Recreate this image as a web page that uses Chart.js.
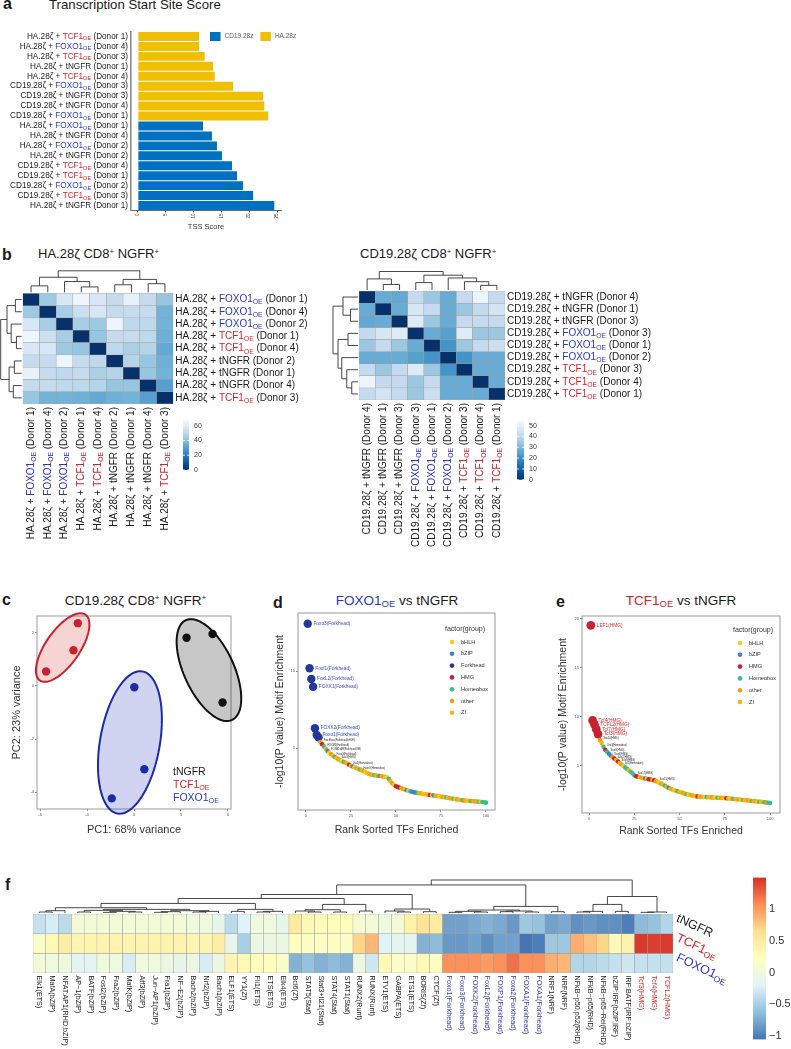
<!DOCTYPE html>
<html>
<head>
<meta charset="utf-8">
<title>TSS score, sample distances, PCA and motif enrichment</title>
<script src="https://cdn.jsdelivr.net/npm/chart.js@4.4.1/dist/chart.umd.min.js"></script>
<style>
  html, body { margin: 0; padding: 0; background: #fff; }
  body { position: relative; width: 791px; height: 1049px; overflow: hidden; font-family: "Liberation Sans", Arial, sans-serif; color: #1a1a1a; }
  canvas { position: absolute; }
  .t { position: absolute; white-space: nowrap; line-height: 1; }
  .p { font-weight: bold; font-size: 16px; }
  .c { transform: translateX(-50%); }
  .rd { color: #d4232b; }
  .bl { color: #2b36c4; }
  sup { font-size: 0.6em; vertical-align: baseline; position: relative; top: -0.5em; }
  sub { font-size: 0.7em; vertical-align: baseline; position: relative; top: 0.3em; }
</style>
</head>
<body>
<div class="t p" style="left:3px;top:-4.5px">a</div>
<div class="t" style="left:49px;top:-1.8px;font-size:13.2px">Transcription Start Site Score</div>
<div class="t p" style="left:2px;top:246.5px">b</div>
<div class="t" style="left:38px;top:247px;font-size:13px">HA.28ζ CD8<sup>+</sup> NGFR<sup>+</sup></div>
<div class="t" style="left:360px;top:247px;font-size:13px">CD19.28ζ CD8<sup>+</sup> NGFR<sup>+</sup></div>
<div class="t p" style="left:2px;top:591.5px">c</div>
<div class="t c" style="left:135.5px;top:593.5px;font-size:13.5px">CD19.28ζ CD8<sup>+</sup> NGFR<sup>+</sup></div>
<div class="t p" style="left:273px;top:594.5px">d</div>
<div class="t c" style="left:397px;top:593.5px;font-size:13.5px"><span class="bl">FOXO1<sub>OE</sub></span> vs tNGFR</div>
<div class="t p" style="left:556px;top:593.5px">e</div>
<div class="t c" style="left:681px;top:593.5px;font-size:13.5px"><span class="rd">TCF1<sub>OE</sub></span> vs tNGFR</div>
<div class="t p" style="left:5px;top:876.5px">f</div>
<script>
// ---------- a: TSS score ----------
const tssLabels = [
  'HA.28ζ + TCF1OE (Donor 1)',
  'HA.28ζ + FOXO1OE (Donor 4)',
  'HA.28ζ + TCF1OE (Donor 3)',
  'HA.28ζ + tNGFR (Donor 1)',
  'HA.28ζ + TCF1OE (Donor 4)',
  'CD19.28ζ + FOXO1OE (Donor 3)',
  'CD19.28ζ + tNGFR (Donor 3)',
  'CD19.28ζ + tNGFR (Donor 4)',
  'CD19.28ζ + FOXO1OE (Donor 1)',
  'HA.28ζ + FOXO1OE (Donor 1)',
  'HA.28ζ + tNGFR (Donor 4)',
  'HA.28ζ + FOXO1OE (Donor 2)',
  'HA.28ζ + tNGFR (Donor 2)',
  'CD19.28ζ + TCF1OE (Donor 4)',
  'CD19.28ζ + TCF1OE (Donor 1)',
  'CD19.28ζ + FOXO1OE (Donor 2)',
  'CD19.28ζ + TCF1OE (Donor 3)',
  'HA.28ζ + tNGFR (Donor 1)'
];
const tssScore = [11.0, 11.0, 12.0, 13.5, 13.8, 17.1, 22.5, 22.7, 23.4,
                  11.7, 13.3, 14.2, 15.1, 16.9, 17.8, 18.9, 20.7, 24.5];
const tssCar = ['HA.28z', 'HA.28z', 'HA.28z', 'HA.28z', 'HA.28z', 'HA.28z', 'HA.28z', 'HA.28z', 'HA.28z',
                'CD19.28z', 'CD19.28z', 'CD19.28z', 'CD19.28z', 'CD19.28z', 'CD19.28z', 'CD19.28z', 'CD19.28z', 'CD19.28z'];
const carNames = ['CD19.28z', 'HA.28z'];

// ---------- b: sample distance heatmaps ----------
const bLeftSamples = [
  'HA.28ζ + FOXO1OE (Donor 1)', 'HA.28ζ + FOXO1OE (Donor 4)', 'HA.28ζ + FOXO1OE (Donor 2)',
  'HA.28ζ + TCF1OE (Donor 1)', 'HA.28ζ + TCF1OE (Donor 4)', 'HA.28ζ + tNGFR (Donor 2)',
  'HA.28ζ + tNGFR (Donor 1)', 'HA.28ζ + tNGFR (Donor 4)', 'HA.28ζ + TCF1OE (Donor 3)'
];
const bLeftDist = [
  [0, 43, 58, 66, 58, 52, 64, 52, 42],
  [43, 0, 45, 54, 58, 52, 52, 52, 36],
  [58, 45, 0, 45, 43, 66, 50, 50, 36],
  [66, 54, 45, 0, 42, 52, 52, 50, 35],
  [58, 58, 43, 42, 0, 50, 46, 48, 33],
  [52, 52, 66, 52, 50, 0, 48, 42, 35],
  [64, 52, 50, 52, 46, 48, 0, 42, 36],
  [52, 52, 50, 50, 48, 42, 42, 0, 30],
  [42, 36, 36, 35, 33, 35, 36, 30, 0]
];
const bLeftTree = [[[0, 1, 3], [2, [3, 4, 2.5], 5], 7], [[5, 6, 3.5], [7, 8, 4], 6], 10];
const bLeftRange = [0, 69];

const bRightSamples = [
  'CD19.28ζ + tNGFR (Donor 4)', 'CD19.28ζ + tNGFR (Donor 1)', 'CD19.28ζ + tNGFR (Donor 3)',
  'CD19.28ζ + FOXO1OE (Donor 3)', 'CD19.28ζ + FOXO1OE (Donor 1)', 'CD19.28ζ + FOXO1OE (Donor 2)',
  'CD19.28ζ + TCF1OE (Donor 3)', 'CD19.28ζ + TCF1OE (Donor 4)', 'CD19.28ζ + TCF1OE (Donor 1)'
];
const bRightDist = [
  [0, 27, 26, 41, 34, 27, 41, 52, 41],
  [27, 0, 27, 46, 41, 27, 34, 41, 45],
  [26, 27, 0, 48, 34, 27, 41, 41, 41],
  [41, 46, 48, 0, 27, 24, 48, 34, 34],
  [34, 41, 34, 27, 0, 21, 34, 41, 43],
  [27, 27, 27, 24, 21, 0, 21, 27, 27],
  [41, 34, 41, 48, 34, 21, 0, 27, 27],
  [52, 41, 41, 34, 41, 27, 27, 0, 27],
  [41, 45, 41, 34, 43, 27, 27, 27, 0]
];
const bRightTree = [[0, [1, 2, 3], 6], [[3, 4, 4], [5, [6, [7, 8, 2.5], 4.5], 6.5], 8], 10];
const bRightRange = [0, 55];

// ---------- c: PCA ----------
const pcaGroups = ['tNGFR', 'TCF1OE', 'FOXO1OE'];
const pcaGroup = ['tNGFR', 'tNGFR', 'tNGFR', 'TCF1OE', 'TCF1OE', 'TCF1OE', 'FOXO1OE', 'FOXO1OE', 'FOXO1OE'];
const pc1 = [3.36, 5.02, 5.66, -3.59, -3.87, -5.62, 0.02, 0.66, -1.42];
const pc2 = [1.82, 1.96, -0.62, 2.37, 1.35, 0.55, -0.05, -3.14, -4.24];
const ellCenter = [[4.79, 0.6], [-4.56, 1.45], [-0.26, -2.13]];
const ellAxisA = [[1.48, -1.88], [1.46, 1.24], [0.80, 2.68]];
const ellAxisB = [[1.44, 0.40], [0.89, -0.37], [1.88, -0.20]];

// ---------- d / e: rank sorted motif enrichment ----------
const dScore = [
  13.1, 10.2, 9.5, 9.0, 6.3, 5.85, 5.7, 5.4, 5.25, 5.1,
  4.95, 4.82, 4.7, 4.6, 4.5, 4.42, 4.35, 4.28, 4.2, 4.15,
  4.1, 4.05, 4.0, 3.92, 3.85, 3.8, 3.75, 3.7, 3.65, 3.6,
  3.55, 3.5, 3.45, 3.38, 3.32, 3.28, 3.25, 3.23, 3.21, 3.2,
  3.18, 3.17, 3.15, 3.13, 3.1, 3.0, 2.85, 2.7, 2.6, 2.52,
  2.47, 2.42, 2.38, 2.34, 2.3, 2.26, 2.22, 2.19, 2.16, 2.13,
  2.1, 2.08, 2.06, 2.04, 2.02, 2.0, 1.98, 1.96, 1.95, 1.93,
  1.91, 1.9, 1.88, 1.86, 1.84, 1.82, 1.8, 1.78, 1.76, 1.74,
  1.72, 1.7, 1.68, 1.66, 1.64, 1.62, 1.6, 1.59, 1.58, 1.57,
  1.56, 1.55, 1.54, 1.53, 1.52, 1.51, 1.5, 1.49, 1.47, 1.45
];
// f=Forkhead o=other h=HMG x=Homeobox Z=Zf z=bZIP b=bHLH
const dGroup = ['fffffffohx', 'ZzboZxZoZb', 'xoZhZzboZx', 'ZobZZoZxZo', 'zZoZbxZobh',
                'hhZoZzbxzz', 'zxZobZZohZ', 'zZobZoZxZo', 'ZxboZZxoZb', 'oxZoZxbxxx'];
const dTagIndex = [0, 1, 2, 3, 4, 5];
const dTagText = ['Foxo3(Forkhead)', 'Foxf1(Forkhead)', 'FoxL2(Forkhead)', 'FOXK1(Forkhead)', 'FOXK2(Forkhead)', 'Foxo1(Forkhead)'];
const dTinyIndex = [7, 9, 11, 14, 17, 23, 29];
const dTinyText = ['Fox:Ebox(Forkhead,bHLH)', 'FOXM1(Forkhead)', 'FOXA1:AR(Forkhead,NR)', 'Foxa3(Forkhead)', 'Sox3(HMG)', 'Lhx2(Homeobox)', 'Hoxc9(Homeobox)'];

const eScore = [
  19.3, 9.6, 9.2, 8.7, 8.2, 7.6, 7.3, 6.9, 6.6, 6.4,
  6.2, 6.0, 5.85, 5.7, 5.55, 5.4, 5.25, 5.1, 4.95, 4.8,
  4.65, 4.5, 4.35, 4.2, 4.0, 3.9, 3.85, 3.8, 3.75, 3.7,
  3.67, 3.64, 3.6, 3.57, 3.53, 3.48, 3.4, 3.32, 3.22, 3.12,
  3.02, 2.92, 2.82, 2.72, 2.63, 2.55, 2.48, 2.42, 2.36, 2.3,
  2.24, 2.18, 2.12, 2.07, 2.02, 1.98, 1.94, 1.9, 1.87, 1.84,
  1.82, 1.8, 1.79, 1.78, 1.77, 1.76, 1.75, 1.74, 1.73, 1.72,
  1.71, 1.7, 1.69, 1.68, 1.67, 1.66, 1.64, 1.62, 1.6, 1.58,
  1.56, 1.54, 1.52, 1.5, 1.48, 1.46, 1.44, 1.42, 1.4, 1.38,
  1.36, 1.34, 1.32, 1.3, 1.28, 1.26, 1.24, 1.22, 1.2, 1.17
];
const eGroup = ['hhhhhoZxhx', 'zzohZhZobx', 'xZxxxhhZoZ', 'zZhhZhoZbo', 'ZxZzZobZxZ',
                'ZoZxbZoZZh', 'ZoZbxZZoZb', 'xZoZZhZbox', 'ZZobxZZoZx', 'ZobxZZxoxx'];
const eTagIndex = [0, 1, 2, 3, 4];
const eTagText = ['LEF1(HMG)', 'Tcf4(HMG)', 'TCFL2(HMG)', 'Tcf7(HMG)', 'Tcf3(HMG)'];
const eTinyIndex = [5, 7, 9, 11, 13, 15, 17, 24, 36];
const eTinyText = ['Sox10(HMG)', 'Lhx3(Homeobox)', 'Sox3(HMG)', 'Sox6(HMG)', 'Sox2(HMG)', 'Sox9(HMG)', 'Isl1(Homeobox)', 'Sox17(HMG)', 'Sox15(HMG)'];

// ---------- f: motif heatmap ----------
const motifs = [
  'Elk1(ETS)', 'MafA(bZIP)', 'NFAT:AP1(RHD,bZIP)', 'AP−1(bZIP)', 'BATF(bZIP)', 'Fosl2(bZIP)', 'Fra2(bZIP)', 'MafK(bZIP)', 'Atf3(bZIP)', 'Jun−AP1(bZIP)',
  'Fra1(bZIP)', 'NF−E2(bZIP)', 'Bach2(bZIP)', 'Nrf2(bZIP)', 'Bach1(bZIP)', 'ELF1(ETS)', 'YY1(Zf)', 'Fli1(ETS)', 'ETS(ETS)', 'Elk4(ETS)',
  'Bcl6(Zf)', 'STAT5(Stat)', 'Stat3+Il21(Stat)', 'STAT4(Stat)', 'STAT1(Stat)', 'RUNX2(Runt)', 'RUNX(Runt)', 'ETV1(ETS)', 'GABPA(ETS)', 'ETS1(ETS)',
  'BORIS(Zf)', 'CTCF(Zf)', 'Foxo1(Forkhead)', 'Foxo3(Forkhead)', 'FOXK2(Forkhead)', 'FoxL2(Forkhead)', 'FOXP1(Forkhead)', 'Foxa2(Forkhead)', 'FOXA1(Forkhead)', 'FOXA1(Forkhead)',
  'NRF1(NRF)', 'NRF(NRF)', 'NFkB−p50,p52(RHD)', 'NFkB−p65(RHD)', 'NFkB−p65−Rel(RHD)', 'bZIP:IRF(bZIP,IRF)', 'IRF:BATF(IRF:bZIP)', 'Tcf3(HMG)', 'Tcf4(HMG)', 'TCFL2(HMG)'
];
const fRowNames = ['tNGFR', 'TCF1OE', 'FOXO1OE'];
const fTngfr = [
  -0.35, -0.25, -0.4, 0.05, 0.05, 0.05, 0.05, 0.05, 0.05, 0.05,
  0.05, 0.05, 0.0, 0.0, -0.1, -0.4, -0.2, 0.0, 0.0, -0.1,
  0.5, 0.3, 0.28, 0.25, 0.25, 0.1, 0.05, 0.0, 0.05, 0.4,
  0.6, 0.5, -0.8, -0.8, -0.75, -0.7, -0.75, -0.85, -0.55, -0.6,
  -0.8, -0.75, -0.9, -0.85, -0.9, -0.9, -1.0, -0.65, -0.6, -0.45
];
const fTcf1 = [
  0.15, 0.3, 0.45, 0.35, 0.35, 0.38, 0.38, 0.38, 0.38, 0.38,
  0.4, 0.38, 0.35, 0.35, 0.45, -0.1, -0.5, -0.05, -0.05, -0.05,
  0.2, 0.2, 0.18, 0.18, 0.15, 0.7, 0.85, -0.2, -0.15, -0.15,
  -0.7, -0.65, -0.85, -0.85, -0.8, -0.9, -0.8, -0.8, -1.05, -1.0,
  -0.55, -0.55, 0.9, 0.8, 0.7, 0.3, 0.4, 1.45, 1.42, 1.45
];
const fFoxo1 = [
  0.05, 0.0, 0.0, -0.15, -0.15, 0.0, 0.0, -0.25, 0.0, 0.0,
  -0.05, -0.1, -0.05, -0.25, -0.05, 0.35, 0.3, 0.25, 0.25, 0.15,
  -0.7, -0.6, -0.7, -0.65, -0.7, -0.05, -0.3, 0.3, 0.15, 0.15,
  0.3, 0.2, 1.05, 1.05, 1.05, 1.0, 1.05, 1.2, 1.05, 1.05,
  0.9, 0.85, -0.45, -0.45, -0.4, -0.35, -0.3, -0.35, -0.35, -0.35
];
const fRange = [-1.05, 1.49];
// motif clustering (leaf = column index, last entry = merge height)
const fTreeA = [[[0, 1, 0.3], 2, 0.7],
                [[[3, 4, 0.3], [[5, 6, 0.2], [7, 8, 0.3], 0.5], 0.8],
                 [[[9, 10, 0.2], 11, 0.4], [[12, 13, 0.3], 14, 0.5], 0.7], 1.1], 1.6];
const fTreeB = [[15, 16, 0.5], [[17, 18, 0.3], 19, 0.5], 1.1];
const fTreeC = [[[20, [21, 22, 0.3], 0.6], [23, 24, 0.3], 1.0], [25, 26, 0.6], 2.6];
const fTreeD = [[27, [28, 29, 0.3], 0.6], [30, 31, 0.4], 1.2];
const fTreeX = [[[[32, 33, 0.2], [34, 35, 0.3], 0.5], [[36, 37, 0.4], [38, 39, 0.3], 0.6], 0.9], [40, 41, 0.4], 2.0];
const fTreeR = [[[[42, 43, 0.3], 44, 0.5], [45, 46, 0.5], 2.6], [[47, 48, 0.2], 49, 0.3], 5.0];
const fTree = [[[[[fTreeA, fTreeB, 2.9], fTreeC, 4.4], fTreeD, 5.6], fTreeX, 8.5], fTreeR, 10];

// ---------- styling ----------
const FF = '"Liberation Sans", Arial, sans-serif';
const RED = '#d4232b', BLUE = '#2b36c4', INK = '#1a1a1a';
const carColor = {'CD19.28z': '#0070c0', 'HA.28z': '#f0c000'};
const pcaColor = {'tNGFR': '#111111', 'TCF1OE': '#c8232c', 'FOXO1OE': '#1c2ba8'};
const pcaFill = {'tNGFR': 'rgba(0,0,0,0.22)', 'TCF1OE': 'rgba(210,40,40,0.2)', 'FOXO1OE': 'rgba(40,60,190,0.22)'};
const groupCode = {f: 'Forkhead', o: 'other', h: 'HMG', x: 'Homeobox', Z: 'Zf', z: 'bZIP', b: 'bHLH'};
const groupColor = {bHLH: '#efd118', bZIP: '#3d84cc', Forkhead: '#23399a', HMG: '#c8232e', Homeobox: '#3ebd8c', other: '#f49a16', Zf: '#f6b60c'};
const BLUES = ['#08306b', '#08519c', '#2171b5', '#4292c6', '#6baed6', '#9ecae1', '#c6dbef', '#deebf7', '#f7fbff'];
const RDYLBU = ['#4575b4', '#91bfdb', '#e0f3f8', '#ffffbf', '#fee090', '#fc8d59', '#d73027'];

Chart.defaults.font.family = FF;
Chart.defaults.color = '#333';
Chart.defaults.animation = false;
Chart.defaults.responsive = false;
Chart.defaults.devicePixelRatio = 1;
Chart.defaults.events = [];
Chart.defaults.plugins.legend.display = false;
Chart.defaults.plugins.tooltip.enabled = false;

function place(left, top, w, h) {
  const c = document.createElement('canvas');
  c.width = w; c.height = h;
  c.style.left = left + 'px'; c.style.top = top + 'px';
  c.style.width = w + 'px'; c.style.height = h + 'px';
  document.body.appendChild(c);
  return c;
}

function ramp(stops, lo, hi) {
  const rgb = stops.map(h => [1, 3, 5].map(i => parseInt(h.slice(i, i + 2), 16)));
  return v => {
    const t = Math.max(0, Math.min(1, (v - lo) / (hi - lo)));
    const p = t * (rgb.length - 1);
    const i = Math.min(Math.floor(p), rgb.length - 2), f = p - i;
    return 'rgb(' + rgb[i].map((a, k) => Math.round(a + (rgb[i + 1][k] - a) * f)).join(',') + ')';
  };
}

// split "X + TCF1OE (Donor n)" into coloured pieces with subscript OE
function parts(label) {
  const m = label.match(/^(.*?)(TCF1|FOXO1)OE(.*)$/);
  if (!m) return [{t: label}];
  const c = m[2] === 'TCF1' ? RED : BLUE;
  return [{t: m[1]}, {t: m[2], c}, {t: 'OE', c, sub: true}, {t: m[3]}].filter(p => p.t);
}

function drawRich(ctx, segs, x, y, size, align) {
  ctx.textBaseline = 'middle';
  ctx.textAlign = 'left';
  let w = 0;
  segs.forEach(s => { ctx.font = (s.sub ? size * 0.68 : size) + 'px ' + FF; s.w = ctx.measureText(s.t).width; w += s.w; });
  let cx = align === 'right' ? x - w : x;
  segs.forEach(s => {
    ctx.font = (s.sub ? size * 0.68 : size) + 'px ' + FF;
    ctx.fillStyle = s.c || INK;
    ctx.fillText(s.t, cx, s.sub ? y + size * 0.3 : y);
    cx += s.w;
  });
}

function drawTree(ctx, tree, leafPx, base, span, vertical) {
  const hmax = tree[2];
  const hp = h => base - h / hmax * span;
  const line = (p1, h1, p2, h2) => {
    if (vertical) { ctx.moveTo(p1, h1); ctx.lineTo(p2, h2); } else { ctx.moveTo(h1, p1); ctx.lineTo(h2, p2); }
  };
  const walk = n => {
    if (typeof n === 'number') return [leafPx(n), base];
    const [pa, ha] = walk(n[0]);
    const [pb, hb] = walk(n[1]);
    const h = hp(n[2]);
    line(pa, ha, pa, h); line(pb, hb, pb, h); line(pa, h, pb, h);
    return [(pa + pb) / 2, h];
  };
  ctx.beginPath();
  walk(tree);
  ctx.stroke();
}

const frame = {
  id: 'frame',
  beforeDatasetsDraw(chart) {
    const {ctx, chartArea: a} = chart;
    ctx.save();
    ctx.strokeStyle = '#9a9a9a'; ctx.lineWidth = 1;
    ctx.strokeRect(a.left, a.top, a.width, a.height);
    ctx.restore();
  }
};

// ---------- a ----------
new Chart(place(0, 0, 400, 240), {
  type: 'bar',
  data: {
    labels: tssLabels,
    datasets: carNames.map(car => ({
      label: car,
      data: tssScore.map((v, i) => tssCar[i] === car ? v : null),
      backgroundColor: carColor[car],
      barPercentage: 0.9,
      categoryPercentage: 1
    }))
  },
  options: {
    indexAxis: 'y',
    layout: {padding: {top: 31.5, right: 119, left: 0, bottom: 0}},
    scales: {
      x: {
        stacked: true, min: -1.23, max: 25.7,
        afterFit: s => { s.height = 29.5; },
        grid: {drawOnChartArea: false, tickLength: 2, color: '#444'},
        border: {color: '#444', width: 0.8},
        ticks: {stepSize: 5, includeBounds: false, minRotation: 90, maxRotation: 90, font: {size: 4.5}, color: '#444', padding: 1},
        title: {display: true, text: 'TSS Score', font: {size: 7.5}, color: '#333', padding: {top: 0, bottom: 8.5}}
      },
      y: {
        stacked: true,
        afterFit: s => { s.width = 131; },
        grid: {display: false},
        border: {color: '#8c8c8c', width: 1.6},
        ticks: {display: false}
      }
    }
  },
  plugins: [{
    id: 'tssLabels',
    afterDraw(chart) {
      const {ctx, chartArea: a, scales: {y}} = chart;
      tssLabels.forEach((l, i) => drawRich(ctx, parts(l), a.left - 3, y.getPixelForValue(i), 8.2, 'right'));
      let lx = 210;
      chart.data.datasets.forEach(ds => {
        ctx.fillStyle = ds.backgroundColor;
        ctx.fillRect(lx, 32, 10.5, 9);
        ctx.font = '6.5px ' + FF; ctx.fillStyle = '#555';
        ctx.textAlign = 'left'; ctx.textBaseline = 'middle';
        ctx.fillText(ds.label, lx + 14.5, 36.7);
        lx += 14.5 + ctx.measureText(ds.label).width + 7;
      });
    }
  }]
});

// ---------- b ----------
function sampleLabels(names, size) {
  return {
    id: 'sampleLabels',
    afterDraw(chart) {
      const {ctx, chartArea: a, scales: {x, y}} = chart;
      names.forEach((n, i) => drawRich(ctx, parts(n), a.right + 2, y.getPixelForValue(i + 0.5), size, 'left'));
      names.forEach((n, j) => {
        ctx.save();
        ctx.translate(x.getPixelForValue(j), a.bottom + 3);
        ctx.rotate(-Math.PI / 2);
        drawRich(ctx, parts(n), 0, 0, size, 'right');
        ctx.restore();
      });
    }
  };
}

function treePlugin(tree, colSpan, rowSpan) {
  return {
    id: 'trees',
    afterDraw(chart) {
      const {ctx, chartArea: a, scales: {x, y}} = chart;
      ctx.save();
      ctx.strokeStyle = '#333'; ctx.lineWidth = 0.9;
      drawTree(ctx, tree, j => x.getPixelForValue(j), a.top - 1, colSpan, true);
      if (rowSpan) drawTree(ctx, tree, i => y.getPixelForValue(i + 0.5), a.left - 1, rowSpan, false);
      ctx.restore();
    }
  };
}

function heatmap(canvas, rowNames, colNames, matrix, colorOf, pad, plugins) {
  return new Chart(canvas, {
    type: 'bar',
    data: {
      labels: colNames,
      datasets: matrix.map((row, r) => ({
        label: rowNames[r],
        data: row.map(() => 1),
        backgroundColor: row.map(colorOf),
        borderColor: '#9c9c9c',
        borderWidth: 0.5,
        borderSkipped: false,
        barPercentage: 1,
        categoryPercentage: 1
      }))
    },
    options: {
      layout: {padding: pad},
      scales: {
        x: {display: false, stacked: true},
        y: {display: false, stacked: true, reverse: true, min: 0, max: matrix.length}
      }
    },
    plugins
  });
}

function colorbar(canvas, range, step, stops, pad, axisW, fontSize, fmt, marks, tickPad) {
  return new Chart(canvas, {
    type: 'bar',
    data: {
      labels: [''],
      datasets: [{
        data: [range],
        backgroundColor: c => {
          const a = c.chart.chartArea;
          if (!a) return stops[0];
          const g = c.chart.ctx.createLinearGradient(0, a.bottom, 0, a.top);
          stops.forEach((s, i) => g.addColorStop(i / (stops.length - 1), s));
          return g;
        },
        borderWidth: 0,
        barPercentage: 1,
        categoryPercentage: 1
      }]
    },
    options: {
      layout: {padding: pad},
      scales: {
        x: {display: false},
        y: {
          position: 'right', min: range[0], max: range[1],
          grid: {display: false, drawTicks: false}, border: {display: false},
          afterFit: s => { s.width = axisW; },
          ticks: {stepSize: step, includeBounds: false, font: {size: fontSize}, color: '#333', padding: tickPad, callback: fmt}
        }
      }
    },
    plugins: marks ? [{
      id: 'marks',
      afterDatasetsDraw(chart) {
        const {ctx, chartArea: a, scales: {y}} = chart;
        ctx.save();
        ctx.strokeStyle = 'rgba(255,255,255,0.9)'; ctx.lineWidth = 1;
        y.ticks.forEach(t => {
          const py = y.getPixelForValue(t.value);
          ctx.beginPath();
          ctx.moveTo(a.left, py); ctx.lineTo(a.left + 1.8, py);
          ctx.moveTo(a.right - 1.8, py); ctx.lineTo(a.right, py);
          ctx.stroke();
        });
        ctx.restore();
      }
    }] : []
  });
}

heatmap(place(0, 260, 330, 300), bLeftSamples, bLeftSamples, bLeftDist,
  ramp(BLUES, bLeftRange[0], bLeftRange[1]),
  {left: 22.7, top: 33.3, right: 156.7, bottom: 156},
  [sampleLabels(bLeftSamples, 10), treePlugin(bLeftTree, 21.5, 21)]);
colorbar(place(176, 410, 40, 70), bLeftRange, 20, BLUES, {left: 7, top: 7, bottom: 10, right: 0}, 27, 7, v => v, true, 5);

heatmap(place(320, 260, 470, 300), bRightSamples, bRightSamples, bRightDist,
  ramp(BLUES, bRightRange[0], bRightRange[1]),
  {left: 39, top: 31, right: 285, bottom: 160},
  [sampleLabels(bRightSamples, 10), treePlugin(bRightTree, 18.5, 25)]);
colorbar(place(510, 411, 40, 78), bRightRange, 10, BLUES, {left: 7, top: 7, bottom: 8, right: 0}, 26, 7, v => v, true, 5);

// ---------- c ----------
new Chart(place(0, 590, 270, 260), {
  type: 'scatter',
  data: {
    datasets: pcaGroups.map(g => ({
      label: g,
      data: pc1.map((v, i) => ({x: v, y: pc2[i], g: pcaGroup[i]})).filter(p => p.g === g),
      backgroundColor: pcaColor[g],
      pointRadius: 4.2,
      pointBorderWidth: 0
    }))
  },
  options: {
    layout: {padding: {top: 26, right: 39, left: 0, bottom: 0}},
    scales: {
      x: {
        min: -6.2, max: 6.2,
        ticks: {stepSize: 3, includeBounds: false, font: {size: 4}, color: '#555', padding: 1, maxRotation: 0},
        grid: {drawOnChartArea: false, tickLength: 2, color: '#888'},
        border: {display: false},
        afterFit: s => { s.height = 41; },
        title: {display: true, text: 'PC1: 68% variance', font: {size: 11}, color: '#333', padding: {top: 0, bottom: 13.4}}
      },
      y: {
        min: -4.64, max: 2.64,
        ticks: {stepSize: 2, includeBounds: false, font: {size: 4}, color: '#555', padding: 1},
        grid: {drawOnChartArea: false, tickLength: 2, color: '#888'},
        border: {display: false},
        afterFit: s => { s.width = 37; },
        title: {display: true, text: 'PC2: 23% variance', font: {size: 11}, color: '#333', padding: {top: 10.4, bottom: 0}}
      }
    }
  },
  plugins: [frame, {
    id: 'ellipses',
    beforeDatasetsDraw(chart) {
      const {ctx, scales: {x, y}} = chart;
      ctx.save();
      pcaGroups.forEach((g, k) => {
        const [cx, cy] = ellCenter[k], [ax, ay] = ellAxisA[k], [bx, by] = ellAxisB[k];
        ctx.beginPath();
        for (let s = 0; s <= 96; s++) {
          const t = s / 96 * 2 * Math.PI;
          const px = x.getPixelForValue(cx + ax * Math.cos(t) + bx * Math.sin(t));
          const py = y.getPixelForValue(cy + ay * Math.cos(t) + by * Math.sin(t));
          if (s) ctx.lineTo(px, py); else ctx.moveTo(px, py);
        }
        ctx.closePath();
        ctx.fillStyle = pcaFill[g]; ctx.fill();
        ctx.strokeStyle = pcaColor[g]; ctx.lineWidth = 2; ctx.stroke();
      });
      ctx.restore();
    },
    afterDraw(chart) {
      const ctx = chart.ctx;
      chart.data.datasets.forEach((ds, k) => {
        const segs = parts(ds.label);
        if (ds.label === 'tNGFR') segs[0].c = INK;
        drawRich(ctx, segs, 173, 182 + k * 13, 10.5, 'left');
      });
    }
  }]
});

// ---------- d / e ----------
function rankPlot(box, cfg) {
  const grp = cfg.groups.join('').split('').map(k => groupCode[k]);
  return new Chart(place(...box), {
    type: 'scatter',
    data: {
      datasets: [{
        label: cfg.name,
        data: cfg.score.map((v, i) => ({x: i + 1, y: v})),
        backgroundColor: grp.map(g => groupColor[g]),
        pointRadius: cfg.score.map(v => v > cfg.bigCut ? cfg.bigR : 2.3),
        pointBorderWidth: 0
      }]
    },
    options: {
      layout: {padding: cfg.pad},
      scales: {
        x: {
          min: cfg.xr[0], max: cfg.xr[1],
          ticks: {stepSize: 25, includeBounds: false, font: {size: 4}, color: '#555', padding: 1, maxRotation: 0},
          grid: {drawOnChartArea: false, tickLength: 2, color: '#888'},
          border: {display: false},
          afterFit: s => { s.height = cfg.xH; },
          title: {display: true, text: 'Rank Sorted TFs Enriched', font: {size: 10.5}, color: '#333', padding: {top: 0, bottom: cfg.xTitlePad}}
        },
        y: {
          min: cfg.yr[0], max: cfg.yr[1],
          ticks: {stepSize: 5, includeBounds: false, font: {size: 4}, color: '#555', padding: 1},
          grid: {drawOnChartArea: false, tickLength: 2, color: '#888'},
          border: {display: false},
          afterFit: s => { s.width = cfg.yW; },
          title: {display: true, text: '-log10(P value) Motif Enrichment', font: {size: 10.5}, color: '#333', padding: {top: cfg.yTitlePad, bottom: 0}}
        }
      }
    },
    plugins: [frame, {
      id: 'tags',
      afterDraw(chart) {
        const {ctx, scales: {x, y}} = chart;
        const r = chart.data.datasets[0].pointRadius;
        ctx.textAlign = 'left'; ctx.textBaseline = 'middle';
        ctx.font = '4.8px ' + FF; ctx.fillStyle = cfg.tagColor;
        cfg.tagIndex.forEach((i, k) => {
          ctx.fillText(cfg.tagText[k], x.getPixelForValue(i + 1) + r[i] + 1.5, y.getPixelForValue(cfg.score[i]));
        });
        ctx.font = '2.6px ' + FF; ctx.fillStyle = '#222';
        cfg.tinyIndex.forEach((i, k) => {
          ctx.fillText(cfg.tinyText[k], x.getPixelForValue(i + 1) + 3.5, y.getPixelForValue(cfg.score[i]) - 1.5);
        });
        const [lx, ly] = cfg.legendAt;
        ctx.font = '7px ' + FF; ctx.fillStyle = '#333';
        ctx.fillText('factor(group)', lx, ly);
        cfg.legendGroups.forEach((g, k) => {
          const yy = ly + 13 + k * 11.8;
          ctx.beginPath(); ctx.arc(lx + 7, yy, 2.3, 0, 2 * Math.PI);
          ctx.fillStyle = groupColor[g]; ctx.fill();
          ctx.font = '5.6px ' + FF; ctx.fillStyle = '#333';
          ctx.fillText(g, lx + 16, yy);
        });
      }
    }]
  });
}

rankPlot([270, 590, 260, 260], {
  name: 'FOXO1 vs tNGFR', score: dScore, groups: dGroup,
  pad: {top: 23, right: 35, left: 0, bottom: 0}, xH: 40, yW: 28, xTitlePad: 13.7, yTitlePad: 3.7,
  xr: [-4.4, 105], yr: [0.97, 13.8], bigCut: 5.6, bigR: 4.2,
  tagIndex: dTagIndex, tagText: dTagText, tagColor: '#3a4bc0',
  tinyIndex: dTinyIndex, tinyText: dTinyText,
  legendAt: [175, 39], legendGroups: ['bHLH', 'bZIP', 'Forkhead', 'HMG', 'Homeobox', 'other', 'Zf']
});

rankPlot([540, 590, 251, 260], {
  name: 'TCF1 vs tNGFR', score: eScore, groups: eGroup,
  pad: {top: 26, right: 11, left: 0, bottom: 0}, xH: 37, yW: 42, xTitlePad: 12.7, yTitlePad: 16.7,
  xr: [-3.87, 105.5], yr: [0.15, 20.25], bigCut: 7.9, bigR: 4.4,
  tagIndex: eTagIndex, tagText: eTagText, tagColor: '#d42a2a',
  tinyIndex: eTinyIndex, tinyText: eTinyText,
  legendAt: [193, 40], legendGroups: ['bHLH', 'bZIP', 'HMG', 'Homeobox', 'other', 'Zf']
});

// ---------- f ----------
const famColor = l => /Forkhead/.test(l) ? '#3140b4' : /HMG/.test(l) ? '#d42a2a' : INK;
heatmap(place(0, 870, 745, 179), fRowNames, motifs, [fTngfr, fTcf1, fFoxo1],
  ramp(RDYLBU, fRange[0], fRange[1]),
  {left: 33, top: 44, right: 72, bottom: 76},
  [{
    id: 'fDecor',
    afterDraw(chart) {
      const {ctx, chartArea: a, scales: {x, y}} = chart;
      ctx.save();
      ctx.strokeStyle = '#333'; ctx.lineWidth = 0.9;
      drawTree(ctx, fTree, j => x.getPixelForValue(j), a.top - 1, 33, true);
      ctx.restore();
      motifs.forEach((m, j) => {
        ctx.save();
        ctx.translate(x.getPixelForValue(j), a.bottom + 2.5);
        ctx.rotate(Math.PI / 2);
        ctx.font = '7.2px ' + FF; ctx.fillStyle = famColor(m);
        ctx.textAlign = 'left'; ctx.textBaseline = 'middle';
        ctx.fillText(m, 0, 0);
        ctx.restore();
      });
      fRowNames.forEach((n, i) => {
        ctx.save();
        ctx.translate(a.right + 4, y.getPixelForValue(i + 0.5) - 6);
        ctx.rotate(25 * Math.PI / 180);
        drawRich(ctx, parts(n), 0, 0, 12.5, 'left');
        ctx.restore();
      });
    }
  }]);
colorbar(place(745, 868, 46, 181), fRange, 0.5, RDYLBU, {left: 8, top: 7, bottom: 3, right: 0}, 25, 11,
  v => String(v).replace('-', '−'), false, 3);
</script>
</body>
</html>
